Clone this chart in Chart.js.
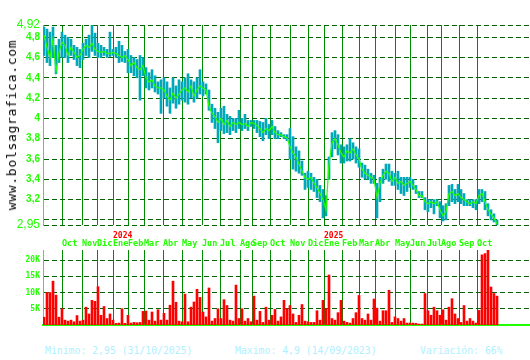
<!DOCTYPE html>
<html><head><meta charset="utf-8">
<script src="https://cdn.jsdelivr.net/npm/chart.js@4.4.1/dist/chart.umd.min.js"></script>
<style>
html,body{margin:0;padding:0;background:#fff;}
#wrap{position:relative;width:530px;height:360px;overflow:hidden;background:#fff;}
#pw{position:absolute;left:0;top:0;width:530px;height:253px;}
#vw{position:absolute;left:0;top:250px;width:530px;height:76px;}
.foot{position:absolute;top:345px;font:9.8px 'DejaVu Sans Mono',monospace;color:#aff0ff;white-space:pre;line-height:12px;}
#brand{position:absolute;left:12px;top:125px;transform:translate(-50%,-50%) rotate(-90deg);font:13px 'DejaVu Sans Mono',monospace;letter-spacing:0.7px;color:#000;white-space:nowrap;line-height:14px;}
</style></head><body>
<div id="wrap">
<div id="pw"><canvas id="pc"></canvas></div>
<div id="vw"><canvas id="vc"></canvas></div>
<div id="brand">www.bolsagrafica.com</div>
<div class="foot" style="left:45px">Minimo: 2,95 (31/10/2025)</div>
<div class="foot" style="left:235px">Maximo: 4,9 (14/09/2023)</div>
<div class="foot" style="left:420px">Variación: 66%</div>
</div>
<script>
// ---- data ----
const monthPos = [19,39,54,70,85,101,120,139,159,177,197,209,227,247,265,281,299,316,332,352,367,384,398,416,434];
const monthLabels = ['Oct','Nov','Dic','Ene','Feb','Mar','Abr','May','Jun','Jul','Ago','Sep','Oct','Nov','Dic','Ene','Feb','Mar','Abr','May','Jun','Jul','Ago','Sep','Oct'];
const yearPos = [70, 281];
const yearLabels = ['2024','2025'];
const priceTicks = [4.92,4.8,4.6,4.4,4.2,4.0,3.8,3.6,3.4,3.2,3.0,2.95];
const volTicks = [5,10,15,20];

const closes = [
4.82,4.70,4.60,4.78,4.46,4.65,4.75,4.72,4.62,4.70,4.65,4.60,4.62,4.68,4.72,4.70,4.74,4.68,4.66,4.65,4.66,4.64,4.64,4.65,4.64,4.62,4.60,4.62,4.58,4.52,4.55,4.50,4.48,4.52,4.40,4.36,4.38,4.32,4.30,
4.30,4.28,4.22,4.18,4.25,4.20,4.24,4.28,4.30,4.26,4.32,4.22,4.28,4.32,4.30,4.28,4.12,4.05,4.02,3.96,4.00,3.94,3.98,3.92,3.96,3.94,3.96,3.94,3.95,3.92,3.96,3.95,3.93,3.90,3.86,3.90,3.88,
3.92,3.86,3.84,3.84,3.82,3.81,3.72,3.66,3.62,3.55,3.48,3.42,3.40,3.42,3.36,3.32,3.26,3.20,3.10,3.55,3.76,3.80,3.74,3.66,3.62,3.68,3.66,3.70,3.64,3.60,3.50,3.46,3.44,3.42,3.40,3.22,3.36,3.44,
3.48,3.46,3.38,3.42,3.36,3.38,3.34,3.36,3.38,3.34,3.30,3.24,3.24,3.18,3.16,3.18,3.16,3.18,3.10,3.04,3.08,3.26,3.28,3.24,3.26,3.22,3.20,3.18,3.16,3.18,3.16,3.24,3.26,3.18,3.10,3.06,3.02,2.96];
const lows = [
4.62,4.55,4.52,4.60,4.44,4.55,4.60,4.60,4.55,4.62,4.58,4.52,4.50,4.58,4.62,4.60,4.66,4.62,4.60,4.60,4.62,4.60,4.61,4.62,4.60,4.55,4.56,4.55,4.45,4.45,4.42,4.40,4.18,4.42,4.30,4.28,4.30,4.26,4.24,
4.05,4.20,4.12,4.05,4.15,4.10,4.14,4.18,4.16,4.14,4.20,4.16,4.20,4.24,4.22,4.24,4.08,3.96,3.90,3.76,3.88,3.85,3.86,3.84,3.88,3.86,3.90,3.88,3.90,3.88,3.92,3.90,3.86,3.82,3.78,3.84,3.80,
3.84,3.80,3.80,3.82,3.80,3.78,3.60,3.50,3.48,3.46,3.44,3.30,3.32,3.30,3.28,3.22,3.18,3.02,3.04,3.40,3.62,3.70,3.64,3.56,3.56,3.58,3.58,3.60,3.56,3.52,3.42,3.40,3.40,3.36,3.36,3.02,3.18,3.36,
3.40,3.38,3.34,3.34,3.30,3.26,3.24,3.28,3.32,3.30,3.26,3.22,3.22,3.10,3.08,3.12,3.06,3.14,3.02,2.99,3.00,3.14,3.18,3.16,3.18,3.16,3.14,3.14,3.14,3.12,3.10,3.16,3.18,3.10,3.04,3.00,2.98,2.95];
const highs = [
4.90,4.88,4.85,4.90,4.72,4.78,4.85,4.82,4.80,4.78,4.72,4.70,4.68,4.74,4.78,4.82,4.92,4.84,4.74,4.72,4.70,4.68,4.85,4.68,4.70,4.76,4.72,4.66,4.68,4.62,4.60,4.58,4.62,4.60,4.50,4.45,4.48,4.42,4.36,
4.38,4.40,4.36,4.30,4.40,4.32,4.38,4.36,4.40,4.44,4.38,4.36,4.40,4.48,4.36,4.34,4.28,4.14,4.10,4.06,4.10,4.12,4.04,4.02,4.00,4.00,4.08,4.00,4.04,3.98,3.98,3.98,3.98,3.97,3.96,4.00,3.94,
3.98,3.92,3.88,3.86,3.84,3.84,3.90,3.82,3.72,3.68,3.58,3.46,3.48,3.46,3.42,3.40,3.34,3.30,3.24,3.62,3.86,3.88,3.84,3.74,3.72,3.74,3.80,3.76,3.72,3.70,3.56,3.54,3.50,3.46,3.44,3.36,3.42,3.50,
3.55,3.55,3.48,3.46,3.48,3.42,3.42,3.42,3.42,3.40,3.34,3.28,3.28,3.22,3.20,3.20,3.20,3.20,3.18,3.14,3.16,3.34,3.35,3.30,3.35,3.30,3.26,3.20,3.20,3.20,3.20,3.30,3.30,3.28,3.16,3.10,3.06,3.00];
const volumes = [
2.4,10,10,13.5,9.2,2.4,5,1.5,1.2,1.5,1.0,2.9,1.2,1.5,5.5,3.4,7.6,7.3,11.8,3,5.7,2,3.4,1.5,0.5,0.6,5,0.5,3,0.6,0.8,0.7,0.8,4.2,4.3,1.5,4,1.2,4.7,
1.5,3.6,1.5,6.1,13.5,7,1.2,1.0,9.5,1.0,5.5,7.1,11,8.5,4,2.5,11.4,1.2,2,5,2,7.8,6,1.5,1.2,12.3,2,5,1.2,2,1,8.9,1.5,4.2,0.8,5.5,1.5,
3,4.8,1.2,2.5,7.6,5,6,3.4,0.8,3,6.3,1.2,1.0,0.8,0.8,4.4,1.5,7.6,5,15.4,2,1.5,3.8,7.6,1.2,0.8,0.6,2,3.8,9.1,2,1.5,3.4,1.5,8,5.2,1.2,4.4,
4.4,10.7,0.8,2.5,2,1.2,2,0.6,0.6,0.6,0.5,0.3,0.3,9.7,4.4,3,5.5,4.4,3,4.7,1.5,5.5,8.1,3.4,2,0.8,6,1.2,2,1.2,0.6,4.5,21.6,22,23,11.7,9.7,8.9];
// trading-day position of each sample (one sample every 3 sessions)
const days = closes.map((_, i) => 1 + 3 * i);

// ---- styles ----
const GREEN = '#22ff00', TEAL = '#00a8b8', GRIDV = '#008a00', GRIDH = '#006400', RED = '#ff0000';
const X_MIN = 0, X_MAX = 487;

const monthAxis = (showLabels) => ({
  type: 'linear', min: X_MIN, max: X_MAX, offset: false, weight: 1,
  afterBuildTicks: s => { s.ticks = monthPos.map(v => ({ value: v })); },
  grid: { display: true, offset: false, color: GRIDV, lineWidth: 1, drawTicks: false },
  border: { display: false },
  ticks: showLabels ? {
    autoSkip: false, maxRotation: 0, minRotation: 0, align: 'start', padding: 3, mirror: true, color: GREEN,
    font: { family: 'DejaVu Sans Mono', size: 8.5, weight: 'bold', lineHeight: 0.1 },
    callback: (v, i) => monthLabels[i]
  } : { display: false }
});

new Chart(document.getElementById('pc'), {
  type: 'line',
  data: {
    datasets: [
      { type: 'line', data: days.map((d, i) => ({ x: d, y: closes[i] })), borderColor: GREEN, borderWidth: 1.2,
        pointRadius: 0, tension: 0, fill: false, order: 0 },
      { type: 'bar', data: days.map((d, i) => ({ x: d, y: [lows[i], highs[i]] })), backgroundColor: TEAL,
        borderWidth: 0, barThickness: 2, order: 1 }
    ]
  },
  options: {
    responsive: true, maintainAspectRatio: false, animation: false, events: [],
    layout: { padding: { top: 25, bottom: 0, left: 0, right: 0 } },
    plugins: { legend: { display: false }, tooltip: { enabled: false } },
    scales: {
      x: monthAxis(true),
      xYear: {
        type: 'linear', axis: 'x', position: 'bottom', min: X_MIN, max: X_MAX, offset: false, weight: 0,
        afterBuildTicks: s => { s.ticks = yearPos.map(v => ({ value: v })); },
        grid: { display: false, drawTicks: false, offset: false },
        border: { display: false },
        ticks: { autoSkip: false, maxRotation: 0, minRotation: 0, align: 'start', padding: 7, color: RED,
          font: { family: 'DejaVu Sans Mono', size: 8, weight: 'bold', lineHeight: 1 },
          callback: (v, i) => yearLabels[i] }
      },
      y: {
        type: 'linear', position: 'left', min: 2.95, max: 4.92,
        afterBuildTicks: s => { s.ticks = priceTicks.map(v => ({ value: v })); },
        afterFit: s => { s.width = 43; s.paddingTop = 0; s.paddingBottom = 0; },
        grid: { color: GRIDH, lineWidth: 1, drawTicks: false },
        border: { display: true, color: GREEN, width: 1, dash: [5, 3] },
        ticks: {
          autoSkip: false, padding: 3, color: GREEN,
          font: c => (c.tick && (c.tick.value === 4.92 || c.tick.value === 2.95))
            ? { family: 'Liberation Sans', size: 12 }
            : { family: 'Liberation Sans', size: 10, weight: 'bold' },
          callback: v => (v === 3.0 ? '' : String(v).replace('.', ','))
        }
      }
    }
  }
});

new Chart(document.getElementById('vc'), {
  type: 'bar',
  data: {
    datasets: [{ data: days.map((d, i) => ({ x: d, y: volumes[i] })), backgroundColor: RED, borderWidth: 0, barThickness: 2 }]
  },
  options: {
    responsive: true, maintainAspectRatio: false, animation: false, events: [],
    layout: { padding: { top: 0, bottom: 1, left: 0, right: 0 } },
    plugins: { legend: { display: false }, tooltip: { enabled: false } },
    scales: {
      x: Object.assign(monthAxis(false), { border: { display: true, color: GREEN, width: 2 } }),
      y: {
        type: 'linear', position: 'left', min: 0, max: 23.1, beginAtZero: true,
        afterBuildTicks: s => { s.ticks = volTicks.map(v => ({ value: v })); },
        afterFit: s => { s.width = 43; s.paddingTop = 0; s.paddingBottom = 0; },
        grid: { color: GRIDH, lineWidth: 1, drawTicks: false },
        border: { display: true, color: GREEN, width: 1, dash: [5, 3] },
        ticks: { autoSkip: false, padding: 3, color: GREEN,
          font: { family: 'DejaVu Sans Mono', size: 8, weight: 'bold' },
          callback: v => v + 'K' }
      }
    }
  }
});
</script>
</body></html>
